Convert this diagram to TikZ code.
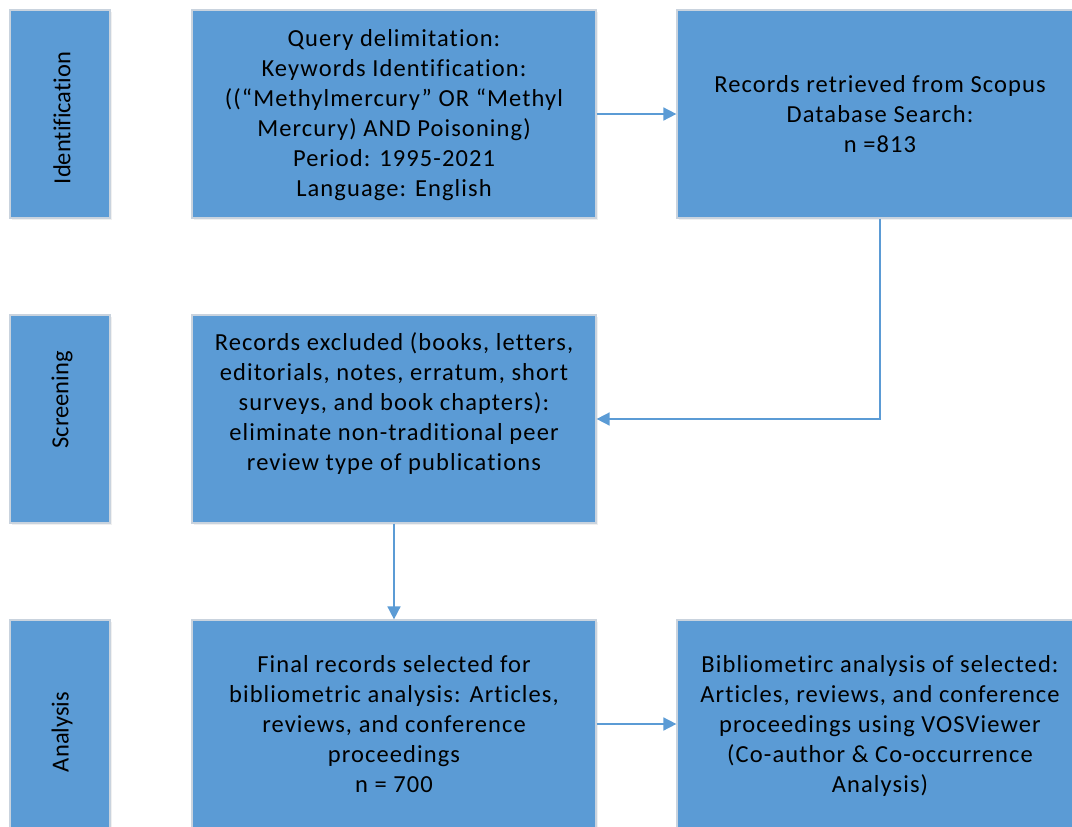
\documentclass[tikz,border=0pt]{standalone}
\usepackage{fontspec}
\setmainfont{Carlito}[LetterSpace=4.5,Ligatures=NoCommon]
\newfontfamily\labelfont{Carlito}[Ligatures=NoCommon]
\usetikzlibrary{arrows.meta,shadows}
\definecolor{boxblue}{HTML}{5B9BD5}
\definecolor{boxedge}{HTML}{C9D3DE}
\begin{document}
\begin{tikzpicture}[x=1pt,y=-1pt,
  box/.style={draw=boxedge, line width=1.2pt, fill=boxblue, inner sep=0pt,
    drop shadow={shadow xshift=1.5pt,shadow yshift=-1.5pt,opacity=0.12}},
  txt/.style={font=\fontsize{24.5}{30}\selectfont, align=center, text=black, inner sep=0pt},
  stagetxt/.style={font=\labelfont\fontsize{24.5}{30}\selectfont, text=black, inner sep=0pt, rotate=90},
  conn/.style={draw=boxblue, line width=1.6pt, -{Triangle[length=13pt,width=13pt]}}]
\useasboundingbox (0,0) rectangle (1072,827);
\clip (0,0) rectangle (1072,827);
% stage boxes
\node[box, minimum width=100pt, minimum height=208pt] (sid) at (60,114) {};
\node[box, minimum width=100pt, minimum height=208pt] (ssc) at (60,419) {};
\node[box, minimum width=100pt, minimum height=208pt] (san) at (60,724) {};
% content boxes
\node[box, minimum width=404pt, minimum height=208pt] (q) at (394,114) {};
\node[box, minimum width=406pt, minimum height=208pt] (rec) at (880,114) {};
\node[box, minimum width=404pt, minimum height=208pt] (exc) at (394,419) {};
\node[box, minimum width=404pt, minimum height=208pt] (fin) at (394,724) {};
\node[box, minimum width=406pt, minimum height=208pt] (bib) at (880,724) {};
% stage labels
\node[stagetxt] (tid) at (62,118) {Identification};
\node[stagetxt] (tsc) at (62,400) {Screening};
\node[stagetxt] (tan) at (62,732) {Analysis};
% texts
\node[txt] (tq) at (394,115) {Query delimitation:\\Keywords Identification:\\((“Methylmercury” OR “Methyl\\Mercury) AND Poisoning)\\Period: 1995-2021\\Language: English};
\node[txt] (trec) at (880,114) {Records retrieved from Scopus\\Database Search:\\n =813};
\node[txt] (texc) at (394,404) {Records excluded (books, letters,\\editorials, notes, erratum, short\\surveys, and book chapters):\\eliminate non-traditional peer\\review type of publications};
\node[txt] (tfin) at (394,724) {Final records selected for\\bibliometric analysis: Articles,\\reviews, and conference\\proceedings\\n = 700};
\node[txt] (tbib) at (880,726) {Bibliometirc analysis of selected:\\Articles, reviews, and conference\\proceedings using VOSViewer\\(Co-author \& Co-occurrence\\Analysis)};
% connectors
\draw[conn] (q.east) -- (rec.west);
\draw[conn] (rec.south) |- (exc.east);
\draw[conn] (exc.south) -- (fin.north);
\draw[conn] (fin.east) -- (bib.west);
\end{tikzpicture}
\end{document}
